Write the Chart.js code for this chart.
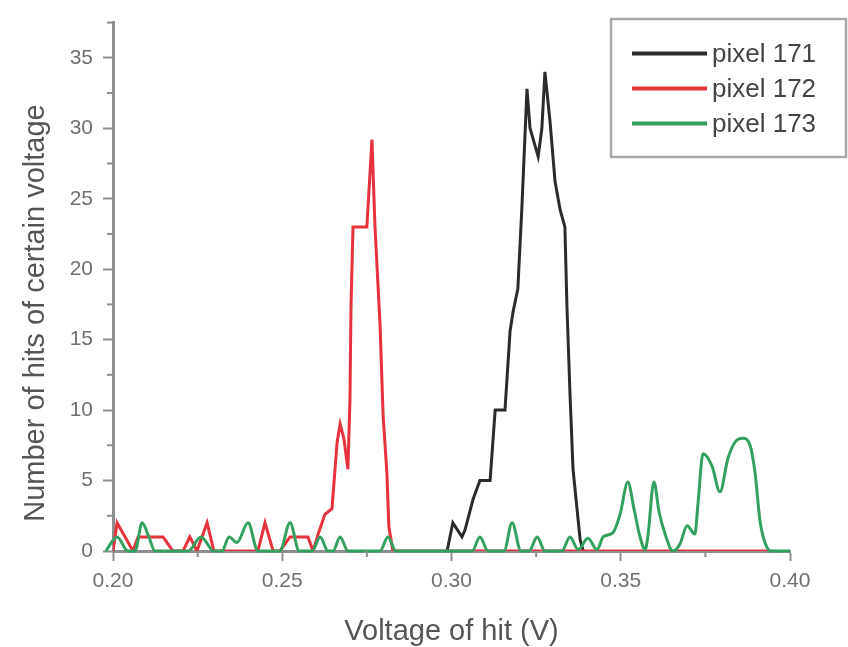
<!DOCTYPE html>
<html>
<head>
<meta charset="utf-8">
<script src="https://cdn.jsdelivr.net/npm/chart.js@4.4.1/dist/chart.umd.min.js"></script>
<style>
    body { margin: 0; background: #fff; }
    #wrap { width: 848px; height: 647px; }
</style>
</head>
<body>
<div id="wrap"><canvas id="myChart" width="848" height="647"></canvas></div>
<script>
// series names and tick values
const seriesNames = ['pixel 171', 'pixel 172', 'pixel 173'];
const xTickValues = [0.20, 0.25, 0.30, 0.35, 0.40];
const yTickValues = [0, 5, 10, 15, 20, 25, 30, 35];
const xMinorTicks = [0.225, 0.275, 0.325, 0.375];
const yMinorTicks = [2.5, 7.5, 12.5, 17.5, 22.5, 27.5, 32.5, 37.5];

// pixel 171 (black)
const pix171Volt = [0.2987, 0.3004, 0.3031, 0.3040, 0.3064, 0.3084, 0.3114, 0.3129, 0.3158, 0.3173, 0.3182, 0.3196, 0.3208, 0.3223, 0.3232, 0.3256, 0.3267, 0.3276, 0.3291, 0.3306, 0.3321, 0.3335, 0.3341, 0.3350, 0.3359, 0.3380, 0.3389];
const pix171Hits = [0, 2, 1, 1.5, 3.7, 5, 5, 10, 10, 15.6, 17, 18.6, 24.4, 32.8, 30, 28, 30, 34, 30.5, 26.2, 24.2, 23, 17.4, 11.2, 5.8, 0.8, 0];

// pixel 172 (red)
const pix172Volt = [0.2000, 0.2012, 0.2059, 0.2074, 0.2148, 0.2177, 0.2207, 0.2227, 0.2248, 0.2278, 0.2298, 0.2428, 0.2449, 0.2473, 0.2493, 0.2523, 0.2576, 0.2591, 0.2606, 0.2626, 0.2647, 0.2662, 0.2671, 0.2682, 0.2694, 0.2700, 0.2703, 0.2709, 0.2750, 0.2765, 0.2774, 0.2789, 0.2798, 0.2809, 0.2815, 0.2827, 0.3944];
const pix172Hits = [0, 2, 0, 1, 1, 0, 0, 1, 0, 2, 0, 0, 2, 0, 0, 1, 1, 0, 1.2, 2.6, 3, 7.7, 9, 8, 5.8, 10.7, 17.2, 23, 23, 29.2, 23, 16, 9.6, 5.6, 1.7, 0, 0];

// pixel 173 (green)
const pix173Volt = [0.1979, 0.2012, 0.2044, 0.2065, 0.2086, 0.2106, 0.2124, 0.2222, 0.2260, 0.2298, 0.2322, 0.2343, 0.2366, 0.2399, 0.2428, 0.2493, 0.2523, 0.2550, 0.2588, 0.2612, 0.2635, 0.2650, 0.2671, 0.2694, 0.2789, 0.2812, 0.2836, 0.3061, 0.3084, 0.3108, 0.3155, 0.3179, 0.3205, 0.3229, 0.3253, 0.3276, 0.3326, 0.3350, 0.3374, 0.3403, 0.3430, 0.3448, 0.3477, 0.3498, 0.3521, 0.3539, 0.3557, 0.3572, 0.3580, 0.3598, 0.3613, 0.3631, 0.3654, 0.3675, 0.3696, 0.3719, 0.3728, 0.3743, 0.3770, 0.3793, 0.3817, 0.3840, 0.3861, 0.3882, 0.3897, 0.3911, 0.3926, 0.3944, 0.4000];
const pix173Hits = [0, 1, 0, 0, 2, 1, 0, 0, 1, 0, 0, 1, 0.6, 2, 0, 0, 2, 0, 0, 1, 0, 0, 1, 0, 0, 1, 0, 0, 1, 0, 0, 2, 0, 0, 1, 0, 0, 1, 0.1, 0.9, 0.1, 1, 1.3, 2.6, 4.9, 3, 1, 0.1, 1, 4.9, 2.8, 1.2, 0, 0.5, 1.8, 1.2, 3.3, 6.9, 6, 4.2, 6.6, 7.8, 8, 7.5, 5.5, 2.2, 0.6, 0, 0];

const lineColors = ['#2b2b2b', '#e5323d', '#34a060'];
const axisColor = '#8e8e8e';
const fontFamily = '"Liberation Sans", Arial, sans-serif';

function toPoints(xs, ys) {
    return xs.map((x, i) => ({ x: x, y: ys[i] }));
}

// minor ticks, axis titles and the boxed legend
const decorPlugin = {
    id: 'decor',
    afterDraw(chart) {
        const ctx = chart.ctx;
        const xs = chart.scales.x;
        const ys = chart.scales.y;
        const area = chart.chartArea;

        ctx.save();
        ctx.strokeStyle = axisColor;
        ctx.lineWidth = 2;
        yMinorTicks.forEach(v => {
            const p = ys.getPixelForValue(v);
            ctx.beginPath();
            ctx.moveTo(area.left - 6, p);
            ctx.lineTo(area.left, p);
            ctx.stroke();
        });
        xMinorTicks.forEach(v => {
            const p = xs.getPixelForValue(v);
            ctx.beginPath();
            ctx.moveTo(p, area.bottom);
            ctx.lineTo(p, area.bottom + 6);
            ctx.stroke();
        });

        // axis titles
        ctx.fillStyle = '#555';
        ctx.font = '29px ' + fontFamily;
        ctx.textAlign = 'center';
        ctx.textBaseline = 'alphabetic';
        ctx.fillText('Voltage of hit (V)', (area.left + area.right) / 2, 640);
        ctx.save();
        ctx.translate(44, 313);
        ctx.rotate(-Math.PI / 2);
        ctx.fillText('Number of hits of certain voltage', 0, 0);
        ctx.restore();

        // legend
        ctx.strokeStyle = '#a8a8a8';
        ctx.lineWidth = 2.5;
        ctx.strokeRect(611, 19, 235, 138);
        ctx.font = '26px ' + fontFamily;
        ctx.textAlign = 'left';
        seriesNames.forEach((name, i) => {
            const y = 53.5 + i * 35;
            ctx.strokeStyle = lineColors[i];
            ctx.lineWidth = 4;
            ctx.beginPath();
            ctx.moveTo(632, y);
            ctx.lineTo(707, y);
            ctx.stroke();
            ctx.fillStyle = '#444';
            ctx.fillText(name, 712, y + 8);
        });
        ctx.restore();
    }
};

const ctx = document.getElementById('myChart');

const hitsChart = new Chart(ctx, {
    type: 'line',
    data: {
        datasets: [{
            label: seriesNames[0],
            data: toPoints(pix171Volt, pix171Hits),
            borderColor: lineColors[0],
            borderWidth: 3,
            tension: 0,
            order: 3
        }, {
            label: seriesNames[1],
            data: toPoints(pix172Volt, pix172Hits),
            borderColor: lineColors[1],
            borderWidth: 3,
            tension: 0,
            order: 2
        }, {
            label: seriesNames[2],
            data: toPoints(pix173Volt, pix173Hits),
            borderColor: lineColors[2],
            borderWidth: 3,
            cubicInterpolationMode: 'monotone',
            clip: 12,
            order: 1
        }]
    },
    options: {
        responsive: false,
        animation: false,
        devicePixelRatio: 1,
        layout: {
            padding: { top: 13, right: 58, left: 0, bottom: 0 }
        },
        elements: {
            point: { radius: 0 }
        },
        scales: {
            x: {
                type: 'linear',
                min: 0.2,
                max: 0.4,
                afterBuildTicks: function (scale) {
                    scale.ticks = xTickValues.map(v => ({ value: v }));
                },
                afterFit: function (scale) {
                    scale.height = 96;
                },
                grid: {
                    drawOnChartArea: false,
                    drawTicks: true,
                    tickLength: 10,
                    tickWidth: 2,
                    tickColor: axisColor
                },
                border: { display: true, color: axisColor, width: 3 },
                ticks: {
                    autoSkip: false,
                    maxRotation: 0,
                    padding: 8,
                    color: '#707070',
                    font: { size: 21, family: fontFamily },
                    callback: function (value) {
                        return Number(value).toFixed(2);
                    }
                }
            },
            y: {
                min: 0,
                max: 37.5,
                afterBuildTicks: function (scale) {
                    scale.ticks = yTickValues.map(v => ({ value: v }));
                },
                afterFit: function (scale) {
                    scale.width = 113;
                },
                grid: {
                    drawOnChartArea: false,
                    drawTicks: true,
                    tickLength: 10,
                    tickWidth: 2,
                    tickColor: axisColor
                },
                border: { display: true, color: axisColor, width: 3 },
                ticks: {
                    padding: 10,
                    color: '#707070',
                    font: { size: 21, family: fontFamily },
                    callback: function (value) {
                        return String(value);
                    }
                }
            }
        },
        plugins: {
            legend: { display: false },
            tooltip: { enabled: false }
        }
    },
    plugins: [decorPlugin]
});
</script>
</body>
</html>
